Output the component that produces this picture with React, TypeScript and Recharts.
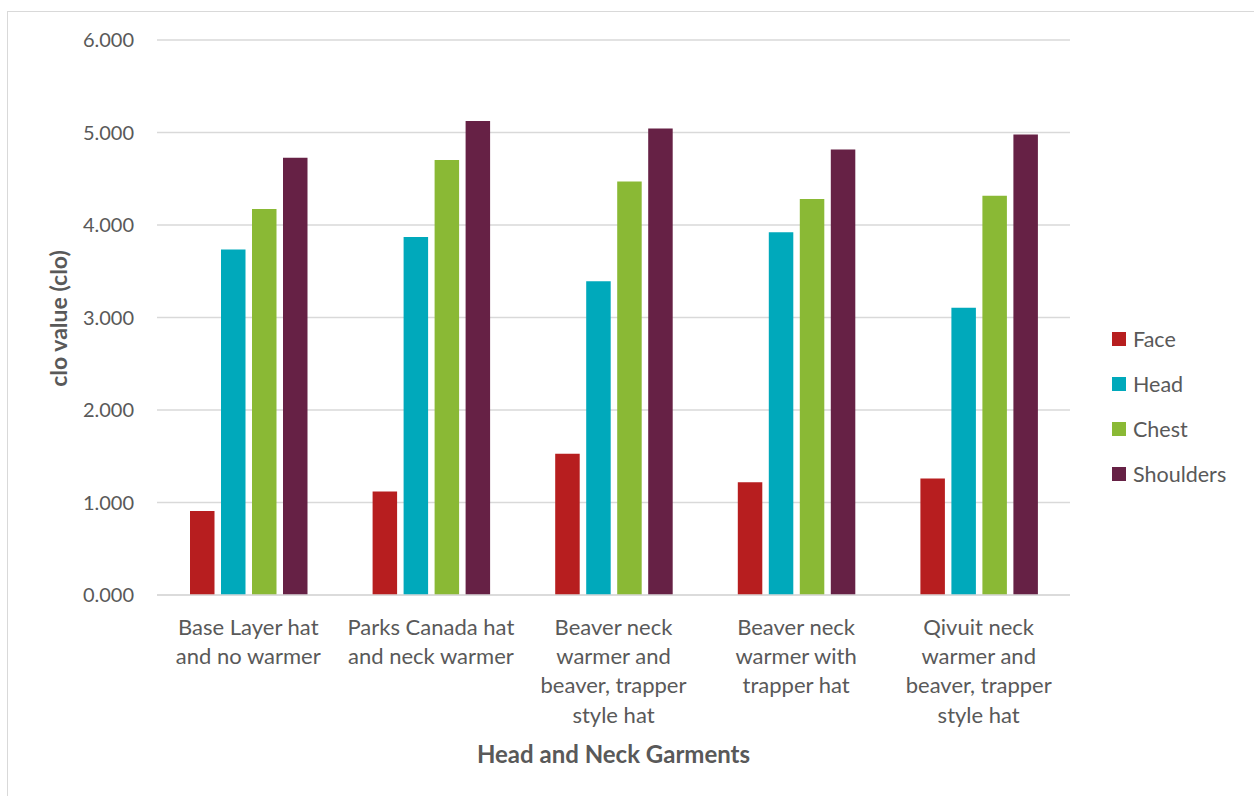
import { BarChart, Bar, XAxis, YAxis, CartesianGrid, Legend, Label } from "recharts"

const garments = [
  "Base Layer hat\nand no warmer",
  "Parks Canada hat\nand neck warmer",
  "Beaver neck\nwarmer and\nbeaver, trapper\nstyle hat",
  "Beaver neck\nwarmer with\ntrapper hat",
  "Qivuit neck\nwarmer and\nbeaver, trapper\nstyle hat",
]

const face = [0.909, 1.119, 1.526, 1.22, 1.26]
const head = [3.734, 3.871, 3.392, 3.922, 3.106]
const chest = [4.174, 4.704, 4.47, 4.282, 4.315]
const shoulders = [4.726, 5.123, 5.043, 4.816, 4.978]

const yTicks = [0, 1, 2, 3, 4, 5, 6]

const SERIES = [
  { key: "Face", color: "#B71E1F" },
  { key: "Head", color: "#00A9BB" },
  { key: "Chest", color: "#8AB935" },
  { key: "Shoulders", color: "#662145" },
]

const data = garments.map((name, i) => ({
  name,
  Face: face[i],
  Head: head[i],
  Chest: chest[i],
  Shoulders: shoulders[i],
}))

const FONT = "Lato, 'Open Sans', sans-serif"
const TEXT = "#595959"

function GarmentTick({ x, y, payload }: any) {
  const lines = String(payload.value).split("\n")
  return (
    <text
      x={x}
      y={y + 32}
      textAnchor="middle"
      fill={TEXT}
      fontSize={22}
      fontFamily={FONT}
    >
      {lines.map((line, i) => (
        <tspan key={i} x={x} dy={i === 0 ? 0 : 29.2}>
          {line}
        </tspan>
      ))}
    </text>
  )
}

function LegendBox() {
  return (
    <div style={{ fontFamily: FONT, fontSize: 21.5, color: TEXT }}>
      {SERIES.map((s) => (
        <div key={s.key} style={{ display: "flex", alignItems: "center", height: 45 }}>
          <span style={{ width: 14, height: 14, background: s.color, marginRight: 7 }} />
          <span>{s.key}</span>
        </div>
      ))}
    </div>
  )
}

function YTitle({ viewBox }: any) {
  const cx = viewBox.x + 58
  const cy = viewBox.y + viewBox.height / 2 + 1
  return (
    <text
      x={cx}
      y={cy}
      transform={`rotate(-90 ${cx} ${cy})`}
      textAnchor="middle"
      dominantBaseline="central"
      fill={TEXT}
      fontSize={23}
      fontWeight={700}
      fontFamily={FONT}
    >
      clo value (clo)
    </text>
  )
}

function XTitle({ viewBox }: any) {
  const cx = viewBox.x + viewBox.width / 2
  const cy = viewBox.y + 158
  return (
    <text
      x={cx}
      y={cy}
      textAnchor="middle"
      dominantBaseline="central"
      fill={TEXT}
      fontSize={24}
      fontWeight={700}
      fontFamily={FONT}
    >
      Head and Neck Garments
    </text>
  )
}

export default function App() {
  return (
    <div
      style={{
        position: "absolute",
        left: 0,
        top: 0,
        width: 1254,
        height: 796,
        overflow: "hidden",
        background: "#fff",
      }}
    >
      {/* chart frame, runs off the right and bottom edges */}
      <div
        style={{
          position: "absolute",
          left: 7,
          top: 11,
          width: 1400,
          height: 900,
          border: "1px solid #d9d9d9",
        }}
      />
      <BarChart
        width={1254}
        height={796}
        data={data}
        margin={{ top: 40, right: 42, left: 0, bottom: 0 }}
        barGap={6.5}
        style={{ position: "absolute", left: 0, top: 0 }}
      >
        <CartesianGrid vertical={false} stroke="#d9d9d9" strokeWidth={1.3} />
        <XAxis
          dataKey="name"
          height={201}
          tick={<GarmentTick />}
          tickLine={false}
          axisLine={{ stroke: "#d9d9d9", strokeWidth: 1.3 }}
          interval={0}
        >
          <Label content={<XTitle />} />
        </XAxis>
        <YAxis
          width={157}
          domain={[0, 6]}
          ticks={yTicks}
          tickFormatter={(v: number) => v.toFixed(3)}
          tick={{ fill: TEXT, fontSize: 20, fontFamily: FONT }}
          tickLine={false}
          tickSize={0}
          tickMargin={23}
          axisLine={false}
        >
          <Label content={<YTitle />} />
        </YAxis>
        <Legend
          layout="vertical"
          align="right"
          verticalAlign="middle"
          content={<LegendBox />}
          wrapperStyle={{ left: 1112, top: 316, width: 142 }}
        />
        {SERIES.map((s) => (
          <Bar
            key={s.key}
            dataKey={s.key}
            fill={s.color}
            barSize={24.5}
            isAnimationActive={false}
          />
        ))}
      </BarChart>
    </div>
  )
}
